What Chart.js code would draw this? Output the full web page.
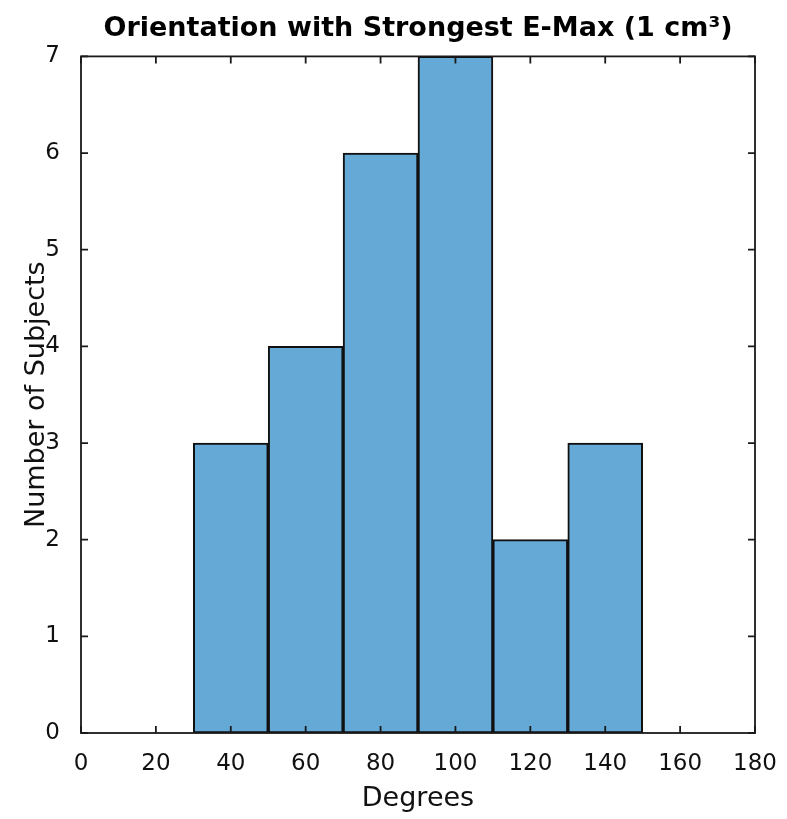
<!DOCTYPE html>
<html>
<head>
<meta charset="utf-8">
<script src="https://cdn.jsdelivr.net/npm/chart.js@4.4.1/dist/chart.umd.min.js"></script>
<style>
  html, body { margin: 0; padding: 0; background: #fff; }
  #wrap { width: 787px; height: 819px; }
</style>
</head>
<body>
<div id="wrap"><canvas id="hist" width="787" height="819"></canvas></div>
<script>
// Histogram data (bin centres in degrees, bin width 20)
const binCenters = [40, 60, 80, 100, 120, 140];
const counts = [3, 4, 6, 7, 2, 3];
const xTicks = [0, 20, 40, 60, 80, 100, 120, 140, 160, 180];
const yTicks = [0, 1, 2, 3, 4, 5, 6, 7];

const FONT = "'DejaVu Sans', sans-serif";

// Draws the MATLAB style box with inward ticks on all four sides
const boxTicks = {
	id: "boxTicks",
	afterDatasetsDraw(chart) {
		const { ctx, chartArea: a, scales } = chart;
		const len = 7;
		ctx.save();
		ctx.strokeStyle = "#1a1a1a";
		ctx.lineWidth = 1.8;
		ctx.beginPath();
		xTicks.forEach((v) => {
			const px = scales.x.getPixelForValue(v);
			ctx.moveTo(px, a.bottom);
			ctx.lineTo(px, a.bottom - len);
			ctx.moveTo(px, a.top);
			ctx.lineTo(px, a.top + len);
		});
		yTicks.forEach((v) => {
			const py = scales.y.getPixelForValue(v);
			ctx.moveTo(a.left, py);
			ctx.lineTo(a.left + len, py);
			ctx.moveTo(a.right, py);
			ctx.lineTo(a.right - len, py);
		});
		ctx.stroke();
		ctx.strokeRect(a.left, a.top, a.right - a.left, a.bottom - a.top);
		ctx.restore();
	},
};

new Chart(document.getElementById("hist"), {
	type: "bar",
	data: {
		datasets: [
			{
				data: binCenters.map((x, i) => ({ x: x, y: counts[i] })),
				backgroundColor: "#65a9d7",
				borderColor: "#111",
				borderWidth: 2,
				borderSkipped: false,
				barPercentage: 1,
				categoryPercentage: 1,
			},
		],
	},
	options: {
		responsive: false,
		animation: false,
		layout: { padding: { left: 0, right: 32, top: 0, bottom: 0 } },
		plugins: {
			legend: { display: false },
			tooltip: { enabled: false },
			title: {
				display: true,
				fullSize: false,
				text: "Orientation with Strongest E-Max (1 cm³)",
				color: "#000",
				font: { family: FONT, size: 27, weight: "bold" },
				padding: { top: 13, bottom: 11 },
			},
		},
		scales: {
			x: {
				type: "linear",
				min: 0,
				max: 180,
				offset: false,
				grid: { display: false },
				border: { display: false },
				afterBuildTicks: (s) => { s.ticks = xTicks.map((v) => ({ value: v })); },
				afterFit: (s) => { s.height = 86; },
				ticks: {
					color: "#111",
					font: { family: FONT, size: 23 },
					padding: 9,
					maxRotation: 0,
				},
				title: {
					display: true,
					text: "Degrees",
					color: "#111",
					font: { family: FONT, size: 27 },
					padding: { top: 0, bottom: 4 },
				},
			},
			y: {
				min: 0,
				max: 7,
				grid: { display: false },
				border: { display: false },
				afterBuildTicks: (s) => { s.ticks = yTicks.map((v) => ({ value: v })); },
				afterFit: (s) => { s.width = 81; },
				ticks: {
					color: "#111",
					font: { family: FONT, size: 23 },
					padding: 13,
				},
				title: {
					display: true,
					text: "Number of Subjects",
					color: "#111",
					font: { family: FONT, size: 27 },
					padding: { top: 21, bottom: 0 },
				},
			},
		},
	},
	plugins: [boxTicks],
});
</script>
</body>
</html>
